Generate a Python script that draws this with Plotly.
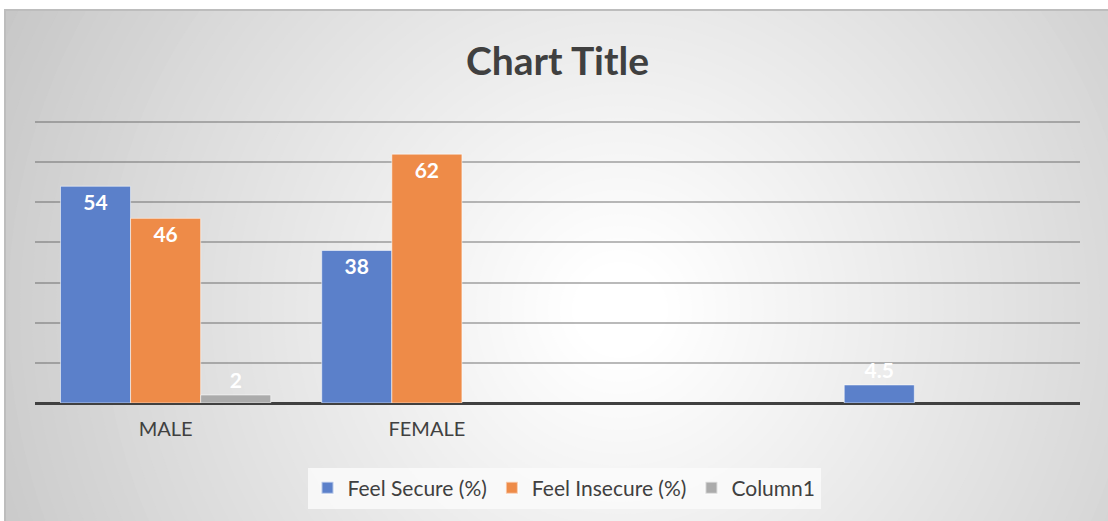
import plotly.graph_objects as go

categories = ["MALE", "FEMALE", " ", "  "]
feel_secure = [54, 38, None, 4.5]
feel_insecure = [46, 62, None, None]
column1 = [2, None, None, None]
series_names = ["Feel Secure (%)", "Feel Insecure (%)", "Column1"]
colors = ["#5B80CA", "#EE8B48", "#ABABAB"]

FONT = "Lato"
W, H = 1108, 521
YMAX = 72
PXU = (403 - 122) / 70.0
ML, MR, MB = 35, 28, 118
MT = int(round(403 - YMAX * PXU))
PW, PH = W - ML - MR, H - MT - MB

def px2x(p):
    return (p - ML) / PW

def py2y(p):
    return (H - MB - p) / PH

fig = go.Figure()
for name, vals, col in zip(series_names, [feel_secure, feel_insecure, column1], colors):
    lab = dict(family=FONT, size=21, color="white", weight="bold")
    fig.add_trace(go.Bar(
        x=categories, y=vals, name=name,
        marker=dict(color=col, line=dict(color="rgba(255,255,255,0.55)", width=1)),
        text=[("" if v is None else (f"{v:g}")) for v in vals],
        textposition="auto", insidetextanchor="end",
        textfont=lab, insidetextfont=lab, outsidetextfont=lab,
        cliponaxis=False,
    ))

shapes = []
shapes.append(dict(type="rect", xref="paper", yref="paper", layer="below",
                   x0=px2x(5), x1=px2x(1110), y0=py2y(10), y1=py2y(525),
                   fillcolor="#c3c3c3", line=dict(color="#bdbdbd", width=1)))
cx, cy = 620, 310
N = 60
Rmax = 720
for i in range(N):
    r = Rmax * (1 - i / N)
    t = i / (N - 1)
    c = int(round(0xc3 + (0xff - 0xc3) * min(1, t ** 0.9 * 1.05)))
    c = min(c, 255)
    shapes.append(dict(type="circle", xref="paper", yref="paper", layer="below",
                       x0=px2x(cx - r), x1=px2x(cx + r), y0=py2y(cy + r), y1=py2y(cy - r),
                       fillcolor=f"rgb({c},{c},{c})", line=dict(width=0)))
for (a0, a1, b0, b1) in [(-800, 1300, -800, 9.5), (-800, 4.5, -800, 1300),
                         (1108, 1300, -800, 1300), (-800, 1300, 521, 1300)]:
    shapes.append(dict(type="rect", xref="paper", yref="paper", layer="below",
                       x0=px2x(a0), x1=px2x(a1), y0=py2y(b1), y1=py2y(b0),
                       fillcolor="white", line=dict(width=0)))
shapes.append(dict(type="path", xref="paper", yref="paper", layer="below",
                   path=f"M {px2x(5)},{py2y(525)} L {px2x(5)},{py2y(10)} L {px2x(1108)},{py2y(10)}",
                   line=dict(color="#bdbdbd", width=2)))

fig.update_layout(
    width=W, height=H,
    margin=dict(l=ML, r=MR, t=MT, b=MB),
    paper_bgcolor="white", plot_bgcolor="rgba(0,0,0,0)",
    barmode="group", bargap=0.195, bargroupgap=0,
    shapes=shapes,
    title=dict(text="<b>Chart Title</b>", x=0.5, xref="paper", y=1 - 61 / H, yanchor="middle",
               font=dict(family=FONT, size=39, color="#404040")),
    xaxis=dict(showgrid=False, showline=False, ticks="", zeroline=False,
               tickfont=dict(family=FONT, size=20, color="#404040"),
               ticklabelstandoff=12),
    yaxis=dict(range=[0, YMAX], tick0=0, dtick=10, showticklabels=False, ticks="",
               gridcolor="rgba(90,90,90,0.42)", gridwidth=1.5,
               zeroline=True, zerolinecolor="#404040", zerolinewidth=3, showline=False),
    legend=dict(orientation="h", x=px2x(564), xanchor="center", y=py2y(488), yanchor="middle",
                bgcolor="rgba(250,250,250,0.85)", borderwidth=0,
                font=dict(family=FONT, size=21, color="#404040"),
                itemsizing="constant", traceorder="normal", itemwidth=30),
    showlegend=True,
)

fig.write_html("out.html", config={"displayModeBar": False},
               post_script="document.body.style.margin='0';document.body.style.overflow='hidden';")
